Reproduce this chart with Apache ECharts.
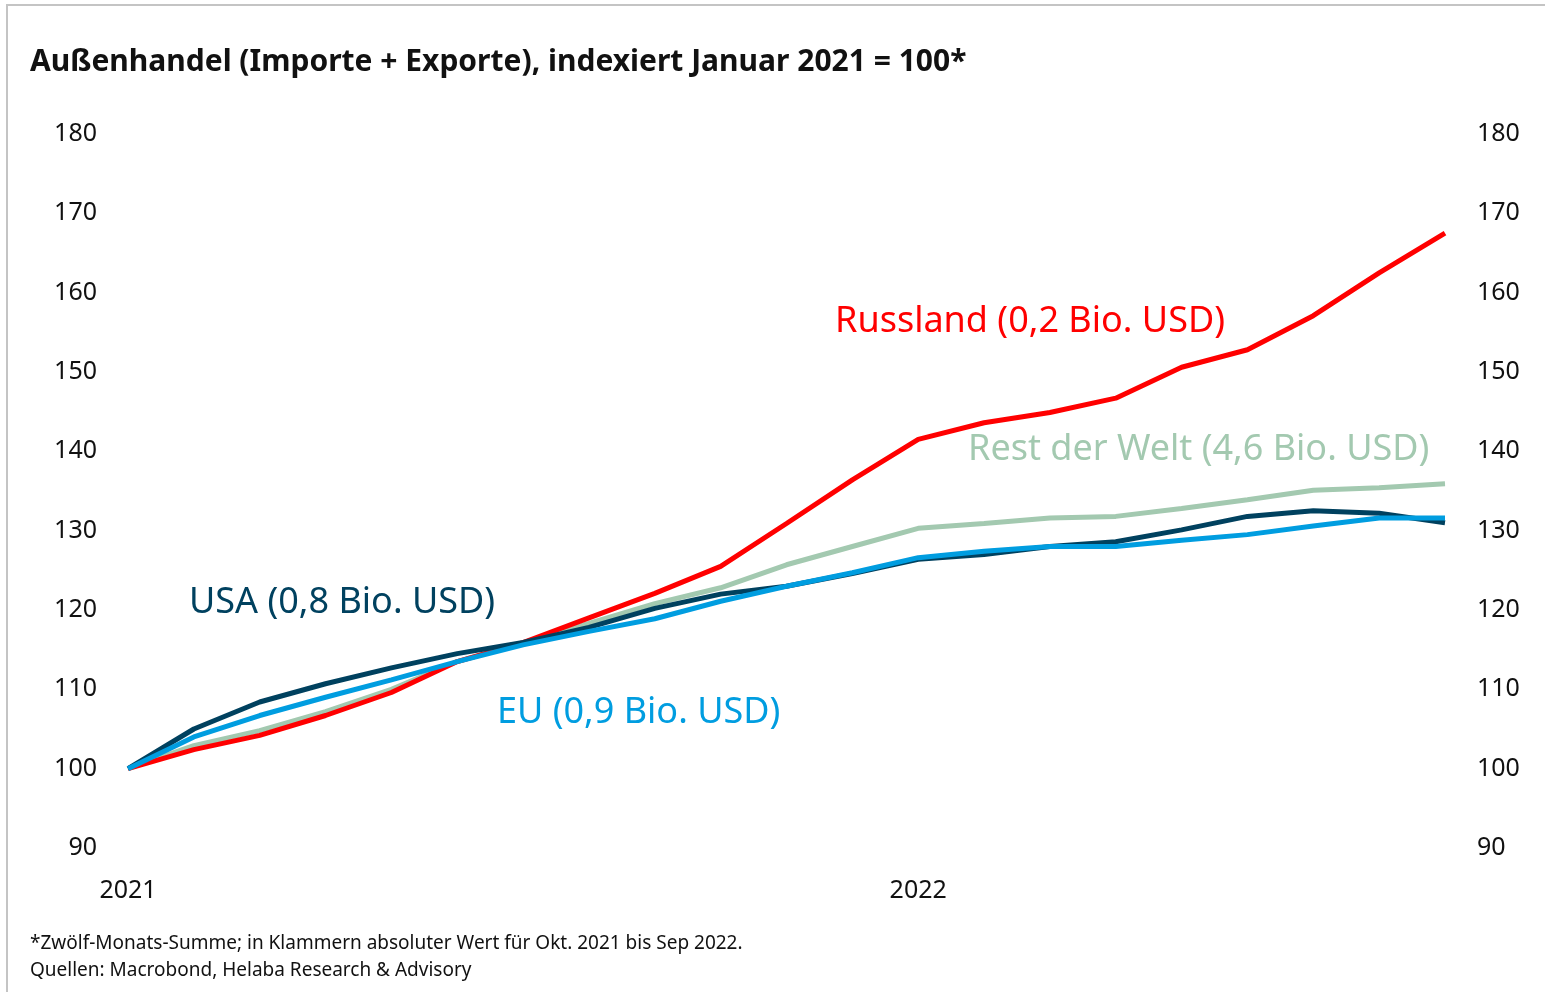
<!DOCTYPE html>
<html>
<head>
<meta charset="utf-8">
<script src="https://cdn.jsdelivr.net/npm/echarts@6/dist/echarts.min.js"></script>
<style>
html, body { margin: 0; padding: 0; background: #fff; }
#chart { width: 1545px; height: 992px; }
</style>
</head>
<body>
<div id="chart"></div>
<script>
// monthly, Jan 2021 - Sep 2022
var months = ['2021-01','2021-02','2021-03','2021-04','2021-05','2021-06','2021-07','2021-08','2021-09','2021-10','2021-11','2021-12',
              '2022-01','2022-02','2022-03','2022-04','2022-05','2022-06','2022-07','2022-08','2022-09'];

var russland = [100, 102.4, 104.2, 106.7, 109.6, 113.5, 115.9, 119.0, 122.1, 125.5, 130.9, 136.4,
                141.5, 143.6, 144.9, 146.7, 150.6, 152.8, 157.1, 162.5, 167.5];
var restWelt = [100, 102.9, 104.8, 107.2, 110.0, 113.5, 115.9, 118.3, 120.8, 122.8, 125.7, 128.0,
                130.3, 130.9, 131.6, 131.8, 132.8, 133.9, 135.1, 135.4, 135.9];
var usa      = [100, 105.0, 108.4, 110.7, 112.7, 114.5, 115.9, 117.8, 120.2, 122.0, 123.0, 124.6,
                126.4, 127.0, 128.0, 128.6, 130.1, 131.8, 132.5, 132.2, 131.0];
var eu       = [100, 104.0, 106.7, 109.0, 111.2, 113.5, 115.6, 117.3, 118.9, 121.1, 123.0, 124.7,
                126.6, 127.4, 128.0, 128.0, 128.8, 129.5, 130.6, 131.6, 131.6];

var colRu = '#ff0000', colRw = '#a3c9b0', colUsa = '#00415f', colEu = '#009de0';
var fontFam = '"Noto Sans", sans-serif';

function lineSeries(name, data, color, z) {
    return {
        name: name,
        type: 'line',
        data: data,
        symbol: 'none',
        z: z,
        lineStyle: { color: color, width: 5 },
        itemStyle: { color: color }
    };
}

var yLabel = { fontSize: 25, color: '#111', fontFamily: fontFam };

var option = {
    animation: false,
    backgroundColor: '#fff',
    grid: { left: 128, right: 100, top: 134, bottom: 144 },
    xAxis: {
        type: 'category',
        data: months,
        boundaryGap: false,
        axisLine: { show: false },
        axisTick: { show: false },
        splitLine: { show: false },
        axisLabel: {
            interval: function (i) { return i % 12 === 0; },
            formatter: function (v) { return v.slice(0, 4); },
            fontSize: 25, color: '#111', fontFamily: fontFam, margin: 30
        }
    },
    yAxis: [
        {
            type: 'value', min: 90, max: 180, interval: 10,
            axisLine: { show: false }, axisTick: { show: false }, splitLine: { show: false },
            axisLabel: Object.assign({ margin: 31 }, yLabel)
        },
        {
            type: 'value', min: 90, max: 180, interval: 10, position: 'right',
            axisLine: { show: false }, axisTick: { show: false }, splitLine: { show: false },
            axisLabel: Object.assign({ margin: 32 }, yLabel)
        }
    ],
    series: [
        lineSeries('Rest der Welt', restWelt, colRw, 2),
        lineSeries('Russland', russland, colRu, 3),
        lineSeries('USA', usa, colUsa, 4),
        lineSeries('EU', eu, colEu, 5)
    ],
    graphic: [
        { type: 'rect', shape: { x: 7, y: 5, width: 1700, height: 1200 }, style: { fill: 'none', stroke: '#c4c4c4', lineWidth: 2 }, silent: true },
        { type: 'text', left: 30, top: 47, style: { text: 'Außenhandel (Importe + Exporte), indexiert Januar 2021 = 100*', fontSize: 30, fontWeight: 'bold', fill: '#111', fontFamily: fontFam } },
        { type: 'text', left: 835, top: 304, style: { text: 'Russland (0,2 Bio. USD)', fontSize: 36, fill: colRu, fontFamily: fontFam } },
        { type: 'text', left: 968, top: 432, style: { text: 'Rest der Welt (4,6 Bio. USD)', fontSize: 36, fill: colRw, fontFamily: fontFam } },
        { type: 'text', left: 189, top: 585, style: { text: 'USA (0,8 Bio. USD)', fontSize: 36, fill: colUsa, fontFamily: fontFam } },
        { type: 'text', left: 497, top: 695, style: { text: 'EU (0,9 Bio. USD)', fontSize: 36, fill: colEu, fontFamily: fontFam } },
        { type: 'text', left: 30, top: 934, style: { text: '*Zwölf-Monats-Summe; in Klammern absoluter Wert für Okt. 2021 bis Sep 2022.', fontSize: 19, fill: '#111', fontFamily: fontFam } },
        { type: 'text', left: 30, top: 961, style: { text: 'Quellen: Macrobond, Helaba Research & Advisory', fontSize: 19, fill: '#111', fontFamily: fontFam } }
    ]
};

var myChart = echarts.init(document.getElementById('chart'));
myChart.setOption(option);
</script>
</body>
</html>
